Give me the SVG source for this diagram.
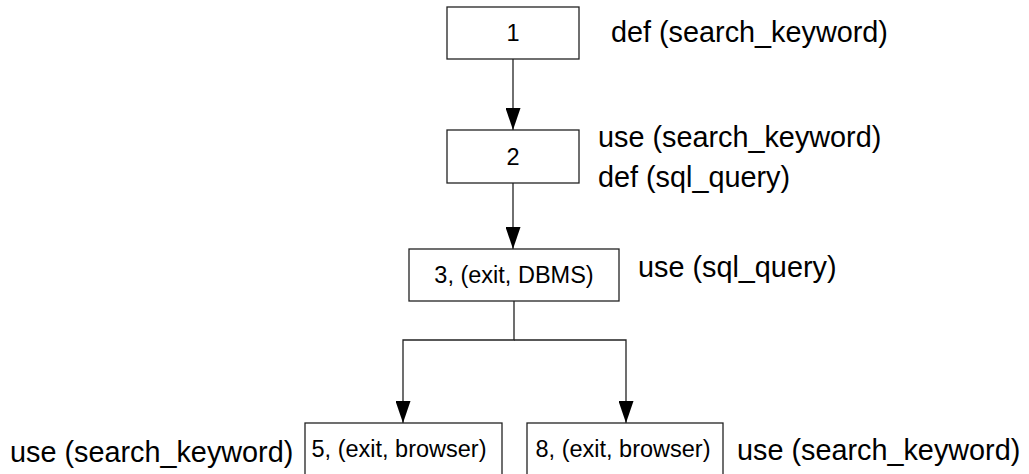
<svg xmlns="http://www.w3.org/2000/svg" width="1029" height="474" viewBox="0 0 1029 474">
<style>
.box{fill:#fff;stroke:#222;stroke-width:1.3}
.bt{font-family:"Liberation Sans",Arial,sans-serif;font-size:23.5px;fill:#000;text-anchor:middle}
.lb{font-family:"Liberation Sans",Arial,sans-serif;font-size:28.8px;fill:#000}
.edge{fill:none;stroke:#222;stroke-width:1.3}
</style>
<defs>
<marker id="ah" markerUnits="userSpaceOnUse" markerWidth="22" markerHeight="15" refX="22" refY="7.5" orient="auto" viewBox="0 0 22 15">
<polygon points="0,0 22,7.5 0,15" fill="#000"/>
</marker>
</defs>
<rect width="1029" height="474" fill="#fff"/>
<g id="connectors">
<line class="edge" x1="513" y1="59" x2="513" y2="130" marker-end="url(#ah)"/>
<line class="edge" x1="513" y1="183" x2="513" y2="249" marker-end="url(#ah)"/>
<polyline class="edge" points="514,301 514,340 403,340 403,423" marker-end="url(#ah)"/>
<polyline class="edge" points="514,340 626,340 626,423" marker-end="url(#ah)"/>
</g>
<g id="n1">
<rect class="box" x="447" y="7" width="132" height="52"/>
<text class="bt" x="513" y="41">1</text>
<text class="lb" x="611" y="42">def (search_keyword)</text>
</g>
<g id="n2">
<rect class="box" x="447" y="130" width="132" height="53"/>
<text class="bt" x="513" y="165">2</text>
<text class="lb" x="598" y="147">use (search_keyword)</text>
<text class="lb" x="598" y="187">def (sql_query)</text>
</g>
<g id="n3">
<rect class="box" x="409" y="249" width="210" height="52"/>
<text class="bt" x="514" y="283">3, (exit, DBMS)</text>
<text class="lb" x="638" y="277">use (sql_query)</text>
</g>
<g id="n5">
<rect class="box" x="305" y="423" width="197" height="60"/>
<text class="bt" x="399" y="457">5, (exit, browser)</text>
<text class="lb" x="10" y="462">use (search_keyword)</text>
</g>
<g id="n8">
<rect class="box" x="527" y="423" width="196" height="60"/>
<text class="bt" x="623" y="457">8, (exit, browser)</text>
<text class="lb" x="737" y="460">use (search_keyword)</text>
</g>
</svg>
